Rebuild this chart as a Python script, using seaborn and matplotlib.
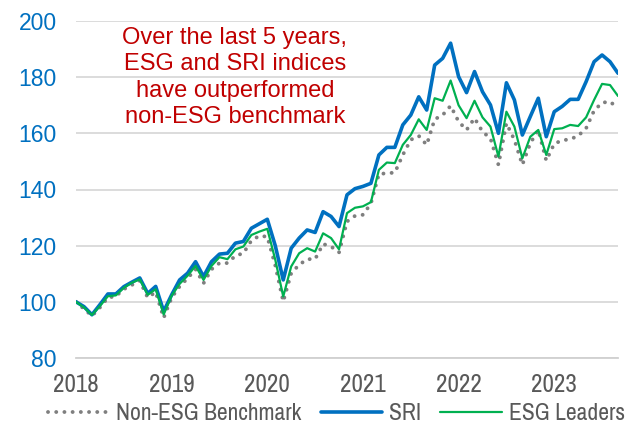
import matplotlib
matplotlib.use("Agg")
import matplotlib.pyplot as plt
import seaborn as sns
import numpy as np
import pandas as pd

years = ["2018", "2019", "2020", "2021", "2022", "2023"]
series_names = ["Non-ESG Benchmark", "SRI", "ESG Leaders"]

bench = [100, 97.5, 95, 98, 101.5, 102, 104.5, 106, 107.5, 101.5, 103.5, 94.3,
         101.5, 105.5, 108.4, 111.6, 106.6, 111.6, 113.8, 113.8, 116.4, 117.3, 121.8, 123.5,
         123.2, 113, 100.1, 110.2, 113.2, 115.2, 115.2, 120.6, 119.7, 117.6, 128.6, 130.6,
         131, 135, 145.5, 145.8, 146, 152.3, 157.7, 159.1, 155.9, 165, 166.5, 169.8,
         164.2, 161.2, 165.4, 160.6, 158.2, 148.8, 163.6, 157.7, 148.8, 156.5, 161.2, 150.3,
         156.3, 157.5, 157.9, 159.1, 161.8, 168.1, 170.9, 171.3, 168.9]

sri = [100, 98.3, 95.4, 99, 102.8, 102.8, 105.4, 107, 108.5, 103, 105.5, 96.6,
       102.5, 107.8, 110.2, 114.3, 109, 114.3, 117, 117.3, 120.9, 121.5, 126.2, 127.8,
       129.4, 120, 107.8, 119.1, 122.7, 125.6, 124.7, 132.1, 130.4, 126.8, 138.1, 140.3,
       141.1, 142.2, 152.3, 155, 155, 163, 166.5, 173, 168.3, 184.3, 186.7, 192.1,
       180.2, 174.5, 182, 174.8, 170.1, 160, 178, 171.9, 159.4, 166, 172.5, 158.8,
       167.7, 169.6, 172.1, 172.1, 178.4, 185.5, 187.9, 185.5, 181.4]

esg = [100, 98, 95.3, 98.5, 102, 102.3, 105, 106.8, 108, 102.5, 104.5, 95.5,
       102.2, 106.4, 109.3, 112.8, 107.8, 112.8, 115.9, 115.2, 118.7, 119.7, 123.8, 125,
       126, 115, 101.9, 112.6, 117.3, 119.1, 117.9, 124.4, 122.7, 118.7, 131.6, 133.5,
       134, 135.5, 147, 149.6, 149.4, 155.9, 159.4, 165, 161.2, 172.5, 171.6, 178.8,
       170, 165.4, 171.6, 165.7, 162.4, 151.7, 167.7, 162.4, 151.1, 158.8, 161.2, 152.3,
       161.5, 161.8, 163, 162.6, 165.7, 171.9, 177.6, 177.2, 173.3]

y_ticks = [80, 100, 120, 140, 160, 180, 200]
annotation = "Over the last 5 years,\nESG and SRI indices\nhave outperformed\nnon-ESG benchmark"

months = np.arange(len(sri))
df = pd.DataFrame({"month": months, "bench": bench, "sri": sri, "esg": esg})

sns.set_theme(style="white")
plt.rcParams["font.family"] = ["Liberation Sans", "DejaVu Sans"]
narrow = ["Archivo Narrow", "Liberation Sans", "DejaVu Sans"]

W, H = 637, 430
fig = plt.figure(figsize=(W / 100, H / 100), dpi=100)
ax = fig.add_axes([76 / W, 1 - 358 / H, (618 - 76) / W, (358 - 21) / H])

sns.lineplot(data=df, x="month", y="bench", ax=ax, color="#7F7F7F", lw=2.8,
             linestyle=(0, (0.01, 2.1)), dash_capstyle="round",
             label=series_names[0], legend=False)
sns.lineplot(data=df, x="month", y="sri", ax=ax, color="#0070C0", lw=2.6,
             label=series_names[1], legend=False)
sns.lineplot(data=df, x="month", y="esg", ax=ax, color="#00B050", lw=1.6,
             label=series_names[2], legend=False)

ax.set_xlim(0, len(sri) - 1)
ax.set_ylim(80, 200)
ax.set_yticks(y_ticks)
ax.set_yticklabels([str(v) for v in y_ticks], color="#0070C0", fontsize=16.5)
ax.set_xticks(np.arange(len(years)) * 12)
ax.set_xticklabels(years, color="#595959", fontsize=18, family=narrow)
ax.set_xlabel("")
ax.set_ylabel("")

ax.grid(axis="y", color="#D9D9D9", lw=1.3)
ax.grid(axis="x", visible=False)
for s in ["left", "right", "top"]:
    ax.spines[s].set_visible(False)
ax.spines["bottom"].set_color("#D0D0D0")
ax.spines["bottom"].set_linewidth(1.3)
ax.tick_params(axis="x", direction="out", length=6, width=1.3, color="#D0D0D0", pad=5)
ax.tick_params(axis="y", length=0, pad=14)

ax.text(0.293, 0.832, annotation, transform=ax.transAxes, ha="center", va="center",
        color="#C00000", fontsize=17, linespacing=1.26)

handles, labels = ax.get_legend_handles_labels()
leg = fig.legend(handles, labels, loc="center", bbox_to_anchor=(0.528, 1 - 414 / H),
                 ncol=3, frameon=False, prop={"family": narrow, "size": 17},
                 handlelength=2.6, handletextpad=0.3, columnspacing=0.8,
                 borderaxespad=0, borderpad=0)
for t in leg.get_texts():
    t.set_color("#595959")

fig.savefig("out.png", dpi=100)
